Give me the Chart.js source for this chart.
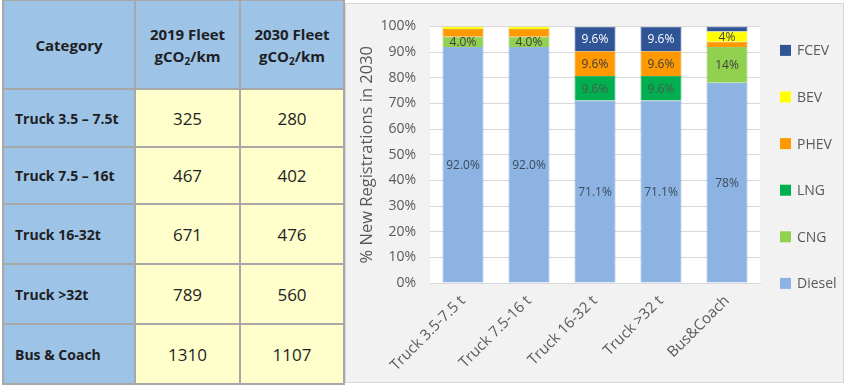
<!DOCTYPE html>
<html>
<head>
<meta charset="utf-8">
<script src="https://cdn.jsdelivr.net/npm/chart.js@4/dist/chart.umd.min.js"></script>
<style>
html,body{margin:0;padding:0;background:#fff;width:850px;height:388px;overflow:hidden;font-family:"Open Sans",sans-serif;}
#tbl{position:absolute;left:2px;top:-1px;border-collapse:collapse;table-layout:fixed;width:341px;}
#tbl td{border:2px solid #a8a8a8;padding:0;color:#1e1e24;}
#tbl td.hd{background:#9dc3e6;font-weight:bold;font-size:15px;text-align:center;line-height:22px;}
#tbl td.rl{background:#9dc3e6;font-weight:bold;font-size:14px;text-align:left;padding-left:11px;}
#tbl td.num{background:#ffffcc;font-size:17px;text-align:center;}
#tbl sub{font-size:10px;vertical-align:-3px;line-height:0;}
#panel{position:absolute;left:345px;top:3px;width:497px;height:378px;background:#f2f2f2;border:1px solid #d6d6d6;}
#c{display:block;}
</style>
</head>
<body>
<table id="tbl"><colgroup><col style="width:132px"><col style="width:105px"><col style="width:104px"></colgroup><tbody id="tb"></tbody></table>
<div id="panel"><canvas id="c" width="497" height="378"></canvas></div>
<script>
// ---------- table data ----------
const tableHeaders = ["Category", "2019 Fleet", "2030 Fleet"];
const unitParts = ["gCO", "2", "/km"];
const tableCategories = ["Truck 3.5 \u2013 7.5t", "Truck 7.5 \u2013 16t", "Truck 16-32t", "Truck >32t", "Bus & Coach"];
const fleet2019 = [325, 467, 671, 789, 1310];
const fleet2030 = [280, 402, 476, 560, 1107];
const rowHeights = [58, 57, 60, 60, 60];

// ---------- chart data ----------
const categories = ["Truck 3.5-7.5 t", "Truck 7.5-16 t", "Truck 16-32 t", "Truck >32 t", "Bus&Coach"];
const seriesNames = ["Diesel", "CNG", "LNG", "PHEV", "BEV", "FCEV"];
const diesel = [92.0, 92.0, 71.1, 71.1, 78];
const cng    = [4.0, 4.0, 0, 0, 14];
const lng    = [0, 0, 9.6, 9.6, 0];
const phev   = [3.0, 3.0, 9.6, 9.6, 2];
const bev    = [1.0, 1.0, 0, 0, 4];
const fcev   = [0, 0, 9.6, 9.6, 2];
const dieselLabels = ["92.0%", "92.0%", "71.1%", "71.1%", "78%"];
const cngLabels    = ["4.0%", "4.0%", "", "", "14%"];
const lngLabels    = ["", "", "9.6%", "9.6%", ""];
const phevLabels   = ["", "", "9.6%", "9.6%", ""];
const bevLabels    = ["", "", "", "", "4%"];
const fcevLabels   = ["", "", "9.6%", "9.6%", ""];
const yTickValues = [0, 10, 20, 30, 40, 50, 60, 70, 80, 90, 100];
const yTitle = "% New Registrations in 2030";

// build table
(function(){
  const tb = document.getElementById('tb');
  let h = '<tr style="height:89px">';
  tableHeaders.forEach((t, i) => {
    if (i === 0) h += '<td class="hd">' + t + '</td>';
    else h += '<td class="hd">' + t + '<br>' + unitParts[0] + '<sub>' + unitParts[1] + '</sub>' + unitParts[2] + '</td>';
  });
  h += '</tr>';
  tableCategories.forEach((c, i) => {
    h += '<tr style="height:' + rowHeights[i] + 'px"><td class="rl"></td><td class="num">' + fleet2019[i] + '</td><td class="num">' + fleet2030[i] + '</td></tr>';
  });
  tb.innerHTML = h;
  const cells = tb.querySelectorAll('td.rl');
  tableCategories.forEach((c, i) => { cells[i].textContent = c; });
})();

const colors = ["#8db3e2", "#92d050", "#00b050", "#ff9900", "#ffff00", "#2f5597"];
const borders = ["#7c9fcf", "#84bd48", "#009e48", "#e68a00", "#e6e600", "#2a4c88"];
const labelColors = ["#3b4a5e", "#404040", "#4a5a4a", "#404040", "#404040", "#ffffff"];
const values = [diesel, cng, lng, phev, bev, fcev];
const labelTexts = [dieselLabels, cngLabels, lngLabels, phevLabels, bevLabels, fcevLabels];

const datasets = seriesNames.map((n, i) => ({
  label: n,
  data: values[i],
  backgroundColor: colors[i],
  borderColor: borders[i],
  borderWidth: 0.8,
  labelTexts: labelTexts[i],
  labelColor: labelColors[i]
}));

const plotBg = {
  id: 'plotBg',
  beforeDraw(chart) {
    const {ctx, chartArea: a} = chart;
    ctx.save();
    ctx.fillStyle = '#ffffff';
    ctx.fillRect(a.left, a.top, a.right - a.left, a.bottom - a.top);
    ctx.restore();
  }
};

const segLabels = {
  id: 'segLabels',
  afterDatasetsDraw(chart) {
    const ctx = chart.ctx;
    ctx.save();
    ctx.font = '12px "Open Sans"';
    ctx.textAlign = 'center';
    ctx.textBaseline = 'middle';
    chart.data.datasets.forEach((ds, i) => {
      const meta = chart.getDatasetMeta(i);
      meta.data.forEach((el, j) => {
        const t = ds.labelTexts[j];
        if (!t) return;
        ctx.fillStyle = ds.labelColor;
        ctx.fillText(t, el.x, (el.y + el.base) / 2 + 1);
      });
    });
    ctx.restore();
  }
};

const sideLegend = {
  id: 'sideLegend',
  afterDraw(chart) {
    const ctx = chart.ctx;
    const a = chart.chartArea;
    const ds = chart.data.datasets.slice().reverse();
    ctx.save();
    ctx.font = '14px "Open Sans"';
    ctx.textBaseline = 'middle';
    ctx.textAlign = 'left';
    const x0 = a.right + 20;
    const y0 = a.top + 24;
    const step = 46.6;
    ds.forEach((d, k) => {
      const yc = y0 + k * step;
      ctx.fillStyle = d.backgroundColor;
      ctx.fillRect(x0, yc - 5.5, 11, 11);
      ctx.fillStyle = '#595959';
      ctx.fillText(d.label, x0 + 17, yc + 1);
    });
    ctx.restore();
  }
};

new Chart(document.getElementById('c'), {
  type: 'bar',
  data: { labels: categories, datasets },
  plugins: [plotBg, segLabels, sideLegend],
  options: {
    responsive: false,
    animation: false,
    layout: { padding: { left: 0, top: 14, right: 83, bottom: 0 } },
    datasets: { bar: { barPercentage: 0.62, categoryPercentage: 1.0 } },
    plugins: { legend: { display: false }, tooltip: { enabled: false } },
    scales: {
      x: {
        stacked: true,
        grid: { display: false, drawTicks: false },
        border: { display: true, color: '#d9d9d9' },
        ticks: { minRotation: 45, maxRotation: 45, padding: 9, color: '#595959', font: { family: 'Open Sans', size: 15 } },
        afterFit(s) { s.height = 99; }
      },
      y: {
        stacked: true,
        min: 0, max: 100,
        afterBuildTicks(s) { s.ticks = yTickValues.map(v => ({ value: v })); },
        grid: { color: '#d9d9d9', drawTicks: false },
        border: { display: false },
        ticks: { padding: 14, color: '#595959', font: { family: 'Open Sans', size: 14 }, callback: v => v + '%' },
        title: { display: true, text: yTitle, color: '#595959', font: { family: 'Open Sans', size: 16.5 }, padding: { top: 11, bottom: 0 } },
        afterFit(s) { s.width = 84; }
      }
    }
  }
});
</script>
</body>
</html>
